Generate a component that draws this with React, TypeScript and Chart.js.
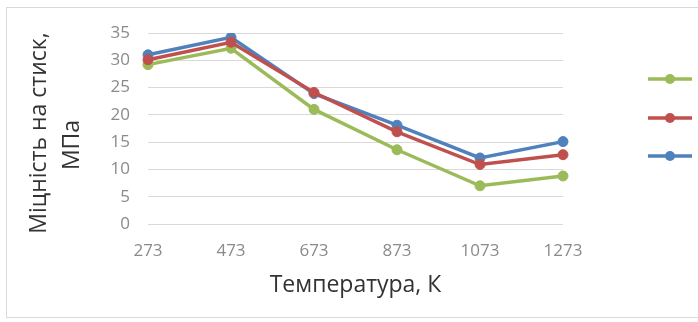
import { useEffect, useRef } from "react";
import { Chart, registerables } from "chart.js";

Chart.register(...registerables);

// Temperature categories (K) and compressive strength series (MPa)
const temperatures = ["273", "473", "673", "873", "1073", "1273"];
const strengthGreen = [29.2, 32.2, 21.0, 13.6, 7.0, 8.8];
const strengthRed = [30.1, 33.3, 24.1, 16.9, 10.9, 12.7];
const strengthBlue = [31.0, 34.2, 23.9, 18.1, 12.1, 15.1];
const seriesColors = ["#9BBB59", "#C0504D", "#4F81BD"];
const yTitleLines = ["Міцність на стиск,", "МПа"];
const xTitle = "Температура, К";

const FONT = "'Open Sans', 'DejaVu Sans', sans-serif";

// Frame, rotated y-axis title and the marker-only legend
const decorPlugin = {
  id: "decor",
  beforeDraw(chart: any) {
    const ctx = chart.ctx;
    ctx.save();
    ctx.strokeStyle = "#d9d9d9";
    ctx.lineWidth = 1;
    ctx.strokeRect(6.5, 7.5, 720, 310);
    ctx.restore();
  },
  afterDraw(chart: any) {
    const ctx = chart.ctx;
    ctx.save();
    ctx.fillStyle = "#333333";
    ctx.font = `23px ${FONT}`;
    ctx.textAlign = "center";
    ctx.textBaseline = "middle";
    const titlePos = [
      [39, 133],
      [72, 145],
    ];
    yTitleLines.forEach((line, i) => {
      ctx.save();
      ctx.translate(titlePos[i][0], titlePos[i][1]);
      ctx.rotate(-Math.PI / 2);
      ctx.fillText(line, 0, 0);
      ctx.restore();
    });

    const legendY = [79, 118, 156];
    chart.data.datasets.forEach((ds: any, i: number) => {
      const y = legendY[i];
      ctx.strokeStyle = ds.borderColor;
      ctx.lineWidth = 3.5;
      ctx.beginPath();
      ctx.moveTo(648, y);
      ctx.lineTo(692, y);
      ctx.stroke();
      ctx.fillStyle = ds.pointBackgroundColor;
      ctx.beginPath();
      ctx.arc(670, y, 5, 0, Math.PI * 2);
      ctx.fill();
    });
    ctx.restore();
  },
};

export default function App() {
  const canvasRef = useRef<HTMLCanvasElement | null>(null);

  useEffect(() => {
    if (!canvasRef.current) return;
    const series = [strengthGreen, strengthRed, strengthBlue];
    const drawOrder = [3, 1, 2];
    const chart = new Chart(canvasRef.current, {
      type: "line",
      data: {
        labels: temperatures,
        datasets: series.map((values, i) => ({
          label: "",
          data: values,
          borderColor: seriesColors[i],
          backgroundColor: seriesColors[i],
          pointBackgroundColor: seriesColors[i],
          pointBorderColor: seriesColors[i],
          pointRadius: 5,
          pointBorderWidth: 1,
          borderWidth: 3.5,
          tension: 0,
          order: drawOrder[i],
        })),
      },
      options: {
        responsive: false,
        animation: false,
        devicePixelRatio: 1,
        layout: { padding: { left: 0, right: 135, top: 33, bottom: 0 } },
        plugins: {
          legend: { display: false },
          tooltip: { enabled: false },
        },
        scales: {
          x: {
            offset: false,
            grid: { display: false, drawTicks: false },
            border: { display: false },
            ticks: {
              color: "#8a8a8a",
              font: { family: FONT, size: 17 },
              padding: 17,
              maxRotation: 0,
            },
            title: {
              display: true,
              text: xTitle,
              color: "#333333",
              font: { family: FONT, size: 23 },
              padding: { top: 0, bottom: 23 },
            },
            afterFit(scale: any) {
              scale.height = 98;
            },
          },
          y: {
            min: 0,
            max: 35,
            ticks: {
              stepSize: 5,
              color: "#8a8a8a",
              font: { family: FONT, size: 17 },
              padding: 18,
            },
            grid: { color: "#d9d9d9", lineWidth: 1, drawTicks: false },
            border: { display: false },
            afterFit(scale: any) {
              scale.width = 148;
            },
          },
        },
      },
      plugins: [decorPlugin],
    });
    return () => chart.destroy();
  }, []);

  return (
    <div style={{ position: "absolute", left: 0, top: 0, width: 698, height: 322, background: "#fff" }}>
      <canvas ref={canvasRef} width={698} height={322} />
    </div>
  );
}
